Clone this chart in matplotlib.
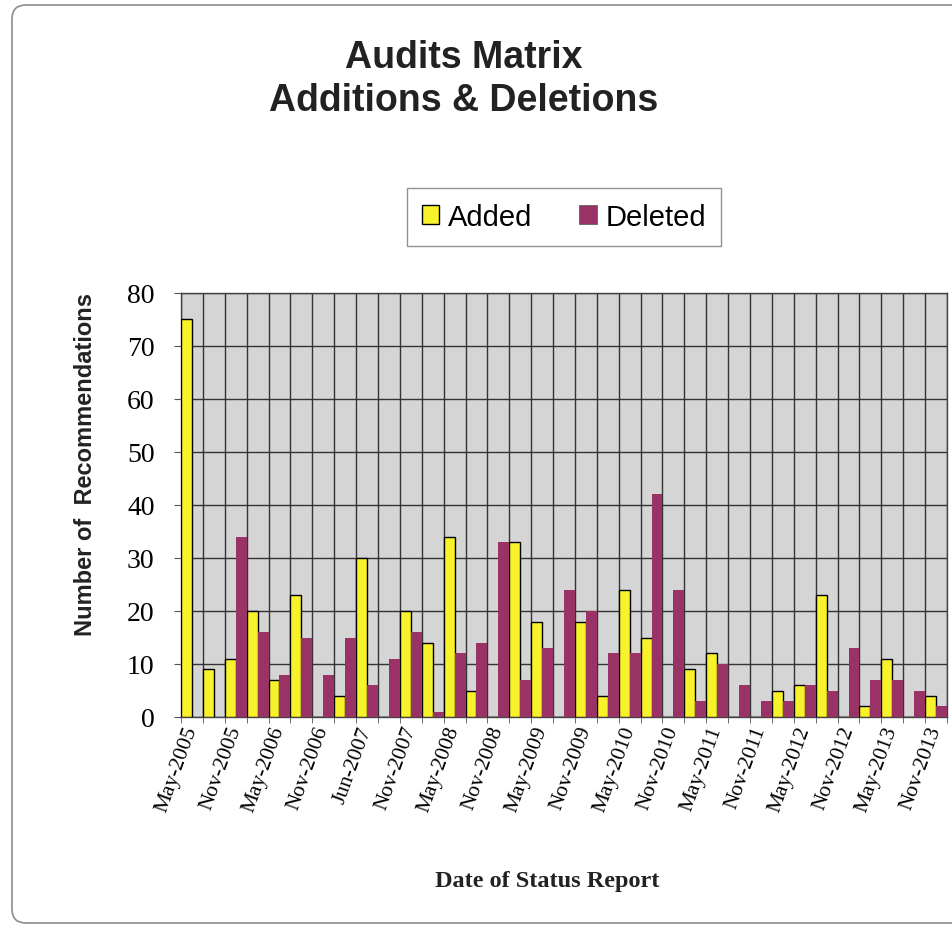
import numpy as np
import matplotlib
matplotlib.use("Agg")
import matplotlib.pyplot as plt
from matplotlib.patches import FancyBboxPatch, Patch

# quarterly status reports, May-2005 .. Nov-2013 (35 reports)
added = [75, 9, 11, 20, 7, 23, 0, 4, 30, 0, 20, 14, 34, 5, 0, 33, 18, 0,
         18, 4, 24, 15, 0, 9, 12, 0, 0, 5, 6, 23, 0, 2, 11, 0, 4]
deleted = [0, 0, 34, 16, 8, 15, 8, 15, 6, 11, 16, 1, 12, 14, 33, 7, 13, 24,
           20, 12, 12, 42, 24, 3, 10, 6, 3, 3, 6, 5, 13, 7, 7, 5, 2]
shown_labels = ["May-2005", "Nov-2005", "May-2006", "Nov-2006", "Jun-2007",
                "Nov-2007", "May-2008", "Nov-2008", "May-2009", "Nov-2009",
                "May-2010", "Nov-2010", "May-2011", "Nov-2011", "May-2012",
                "Nov-2012", "May-2013", "Nov-2013"]

W, H = 953, 928
fig = plt.figure(figsize=(W / 100, H / 100), dpi=100)
fig.patch.set_facecolor("white")

# rounded outer frame (right side runs off the picture)
frame = FancyBboxPatch((12 / 100, 4 / 100), 960 / 100, 918 / 100,
                       boxstyle="round,pad=0,rounding_size=0.14",
                       transform=fig.dpi_scale_trans, facecolor="none",
                       edgecolor="#8c8c8c", lw=1.2)
fig.patches.append(frame)

# plot area in pixels: left 181, right 947, top 294, bottom 718
ax = fig.add_axes([181 / W, 1 - 718 / H, (947 - 181) / W, (718 - 294) / H])
ax.set_facecolor("#d5d5d5")

x = np.arange(len(added))
ax.bar(x - 0.25, added, width=0.5, color="#f7f22a", edgecolor="black",
       lw=1.0, zorder=3)
ax.bar(x + 0.25, deleted, width=0.5, color="#993366", edgecolor="none",
       zorder=3)

ax.set_xlim(-0.5, len(added) - 0.5)
ax.set_ylim(0, 80)
ax.set_yticks(np.arange(0, 81, 10))
ax.set_xticks(np.arange(-0.5, len(added), 1.0), minor=True)
ax.set_xticks(np.arange(0, len(added), 2))
ax.set_xticklabels(shown_labels, rotation=70, ha="right", va="center",
                   rotation_mode="anchor", family="Liberation Serif",
                   fontsize=15.5)
ax.tick_params(axis="x", which="major", length=0, pad=7)
ax.tick_params(axis="x", which="minor", length=4, color="#555555")
ax.tick_params(axis="y", length=5, color="#555555", pad=14)
for lab in ax.get_yticklabels():
    lab.set_family("Liberation Serif")
    lab.set_fontsize(20)

ax.grid(axis="y", which="major", color="#333333", lw=1.0, zorder=1)
ax.grid(axis="x", which="minor", color="#333333", lw=1.0, zorder=1)
ax.set_axisbelow(True)
for sp in ax.spines.values():
    sp.set_color("#444444")
    sp.set_linewidth(1.0)

# titles and axis labels
fig.text(464 / W, 1 - 58 / H, "Audits Matrix", ha="center", va="center",
         family="Liberation Sans", fontweight="bold", fontsize=27,
         color="#222222")
fig.text(464 / W, 1 - 101 / H, "Additions & Deletions", ha="center",
         va="center", family="Liberation Sans", fontweight="bold",
         fontsize=27, color="#222222")
fig.text(86 / W, 1 - 465 / H, "Number of  Recommendations", rotation=90,
         ha="center", va="center", family="Liberation Sans",
         fontweight="bold", fontsize=17, color="#222222")
fig.text(547 / W, 1 - 882 / H, "Date of Status Report", ha="center",
         va="center", family="Liberation Serif", fontweight="bold",
         fontsize=17.5, color="#222222")

handles = [Patch(facecolor="#f7f22a", edgecolor="black", lw=1.0),
           Patch(facecolor="#993366", edgecolor="#555555", lw=0.5)]
leg = fig.legend(handles, ["Added", "Deleted"], loc="center",
                 bbox_to_anchor=(564 / W, 1 - 218 / H), ncol=2,
                 prop={"family": "Liberation Sans", "size": 21},
                 frameon=True, fancybox=False, handlelength=0.6,
                 handleheight=0.6, handletextpad=0.3, columnspacing=1.6,
                 borderpad=0.5, borderaxespad=0)
leg.get_frame().set_edgecolor("#777777")
leg.get_frame().set_linewidth(1.0)

fig.savefig("out.png", dpi=100)
